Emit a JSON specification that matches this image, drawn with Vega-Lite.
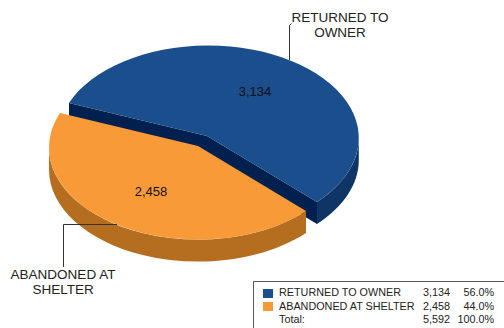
{
  "$schema": "https://vega.github.io/schema/vega-lite/v6.json",
  "width": 504,
  "height": 328,
  "padding": 0,
  "autosize": "none",
  "background": "white",
  "view": {"stroke": null},
  "config": {"text": {"font": "Liberation Sans"}},
  "datasets": {
    "slices": [
      {"status": "RETURNED TO OWNER", "callout": "RETURNED TO\nOWNER", "count": 3134, "share": 0.56},
      {"status": "ABANDONED AT SHELTER", "callout": "ABANDONED AT\nSHELTER", "count": 2458, "share": 0.44}
    ],
    "table": [
      {"status": "RETURNED TO OWNER", "count": 3134, "share": 0.56},
      {"status": "ABANDONED AT SHELTER", "count": 2458, "share": 0.44},
      {"status": "Total:", "count": 5592, "share": 1.0}
    ]
  },
  "resolve": {"scale": {"x": "independent", "y": "independent", "shape": "independent", "fill": "independent", "stroke": "independent"}},
  "layer": [
    {
      "description": "Outer wall of the pulled-out blue slice",
      "data": {"name": "slices"},
      "transform": [{"filter": "datum.count === 3134"}],
      "mark": {"type": "point", "filled": true, "opacity": 1, "size": 4, "fill": "#0E3565", "strokeWidth": 0,
        "shape": "M106.8 -26A150.5 92.5 0 0 1 65 38L65 60A150.5 92.5 0 0 0 106.8 -4Z"}
    },
    {
      "description": "Cut wall of the blue slice and rim of the orange slice",
      "data": {"name": "slices"},
      "mark": {"type": "point", "filled": true, "opacity": 1, "size": 4, "strokeWidth": 0},
      "encoding": {
        "shape": {"field": "status", "type": "nominal", "legend": null, "scale": {
          "domain": ["RETURNED TO OWNER", "ABANDONED AT SHELTER"],
          "range": ["M-183 -61L-45 -28L65 38L65 60L-45 -6L-183 -39Z", "M-203 -16.5A149 92 0 0 0 54 47L54 69A149 92 0 0 1 -203 5.5Z"]}},
        "fill": {"field": "status", "type": "nominal", "legend": null, "scale": {
          "domain": ["RETURNED TO OWNER", "ABANDONED AT SHELTER"],
          "range": ["#00214F", "#B56E20"]}}
      }
    },
    {
      "description": "Top faces of the two slices",
      "data": {"name": "slices"},
      "mark": {"type": "point", "filled": true, "opacity": 1, "size": 4, "strokeWidth": 0},
      "encoding": {
        "shape": {"field": "status", "type": "nominal", "legend": null, "scale": {
          "domain": ["RETURNED TO OWNER", "ABANDONED AT SHELTER"],
          "range": ["M-183 -61L-45 -28L65 38A150.5 92.5 0 1 0 -183 -61Z", "M-192 -51L-54 -18L54 47A149 92 0 0 1 -192 -51Z"]}},
        "fill": {"field": "status", "type": "nominal", "legend": null, "scale": {
          "domain": ["RETURNED TO OWNER", "ABANDONED AT SHELTER"],
          "range": ["#1A4E8C", "#F99A38"]}}
      }
    },
    {
      "description": "Leader lines from the callouts to the slices",
      "data": {"name": "slices"},
      "mark": {"type": "point", "filled": false, "opacity": 1, "size": 4, "strokeWidth": 1, "stroke": "#333333"},
      "encoding": {
        "shape": {"field": "status", "type": "nominal", "legend": null, "scale": {
          "domain": ["RETURNED TO OWNER", "ABANDONED AT SHELTER"],
          "range": ["M39.5 -140.5L37.5 -138.5L37.5 -104", "M-188.5 103L-188.5 60.5L-135 60.5"]}}
      }
    },
    {
      "description": "Values printed on the slices",
      "data": {"name": "slices"},
      "mark": {"type": "text", "fontSize": 13, "color": "#111111", "align": "center", "baseline": "middle"},
      "encoding": {
        "text": {"field": "count", "type": "quantitative", "format": ","},
        "x": {"field": "status", "type": "nominal", "axis": null, "scale": {"type": "point", "padding": 0, "domain": ["RETURNED TO OWNER", "ABANDONED AT SHELTER"], "range": [255, 151]}},
        "y": {"field": "status", "type": "nominal", "axis": null, "scale": {"type": "point", "padding": 0, "domain": ["RETURNED TO OWNER", "ABANDONED AT SHELTER"], "range": [92, 192]}}
      }
    },
    {
      "description": "Callout labels",
      "data": {"name": "slices"},
      "mark": {"type": "text", "fontSize": 13.5, "color": "#222222", "align": "center", "baseline": "middle", "lineBreak": "\n", "lineHeight": 14.5},
      "encoding": {
        "text": {"field": "callout", "type": "nominal"},
        "x": {"field": "status", "type": "nominal", "axis": null, "scale": {"type": "point", "padding": 0, "domain": ["RETURNED TO OWNER", "ABANDONED AT SHELTER"], "range": [340, 63]}},
        "y": {"field": "status", "type": "nominal", "axis": null, "scale": {"type": "point", "padding": 0, "domain": ["RETURNED TO OWNER", "ABANDONED AT SHELTER"], "range": [18, 275]}}
      }
    },
    {
      "description": "Frame of the summary table, running off the page",
      "data": {"values": [{"part": "frame"}]},
      "mark": {"type": "point", "filled": false, "opacity": 1, "size": 4, "strokeWidth": 1, "stroke": "#555555",
        "shape": "M1.5 164L1.5 117.5L252 117.5"}
    },
    {
      "description": "Colour swatches of the summary table",
      "data": {"name": "slices"},
      "mark": {"type": "point", "filled": true, "opacity": 1, "size": 4, "strokeWidth": 0},
      "encoding": {
        "shape": {"field": "status", "type": "nominal", "legend": null, "scale": {
          "domain": ["RETURNED TO OWNER", "ABANDONED AT SHELTER"],
          "range": ["M11 125h10v9h-10z", "M11 138h10v9h-10z"]}},
        "fill": {"field": "status", "type": "nominal", "legend": null, "scale": {
          "domain": ["RETURNED TO OWNER", "ABANDONED AT SHELTER"],
          "range": ["#1A4E8C", "#F99A38"]}}
      }
    },
    {
      "description": "Summary table: names",
      "data": {"name": "table"},
      "mark": {"type": "text", "fontSize": 10.8, "color": "#222222", "align": "left", "baseline": "middle", "dx": 27},
      "encoding": {
        "text": {"field": "status", "type": "nominal"},
        "y": {"field": "status", "type": "nominal", "axis": null, "scale": {"type": "point", "padding": 0, "domain": ["RETURNED TO OWNER", "ABANDONED AT SHELTER", "Total:"], "range": [293, 320]}}
      }
    },
    {
      "description": "Summary table: counts",
      "data": {"name": "table"},
      "mark": {"type": "text", "fontSize": 10.8, "color": "#222222", "align": "right", "baseline": "middle", "dx": 198},
      "encoding": {
        "text": {"field": "count", "type": "quantitative", "format": ","},
        "y": {"field": "status", "type": "nominal", "axis": null, "scale": {"type": "point", "padding": 0, "domain": ["RETURNED TO OWNER", "ABANDONED AT SHELTER", "Total:"], "range": [293, 320]}}
      }
    },
    {
      "description": "Summary table: shares",
      "data": {"name": "table"},
      "mark": {"type": "text", "fontSize": 10.8, "color": "#222222", "align": "right", "baseline": "middle", "dx": 242},
      "encoding": {
        "text": {"field": "share", "type": "quantitative", "format": ".1%"},
        "y": {"field": "status", "type": "nominal", "axis": null, "scale": {"type": "point", "padding": 0, "domain": ["RETURNED TO OWNER", "ABANDONED AT SHELTER", "Total:"], "range": [293, 320]}}
      }
    }
  ]
}
